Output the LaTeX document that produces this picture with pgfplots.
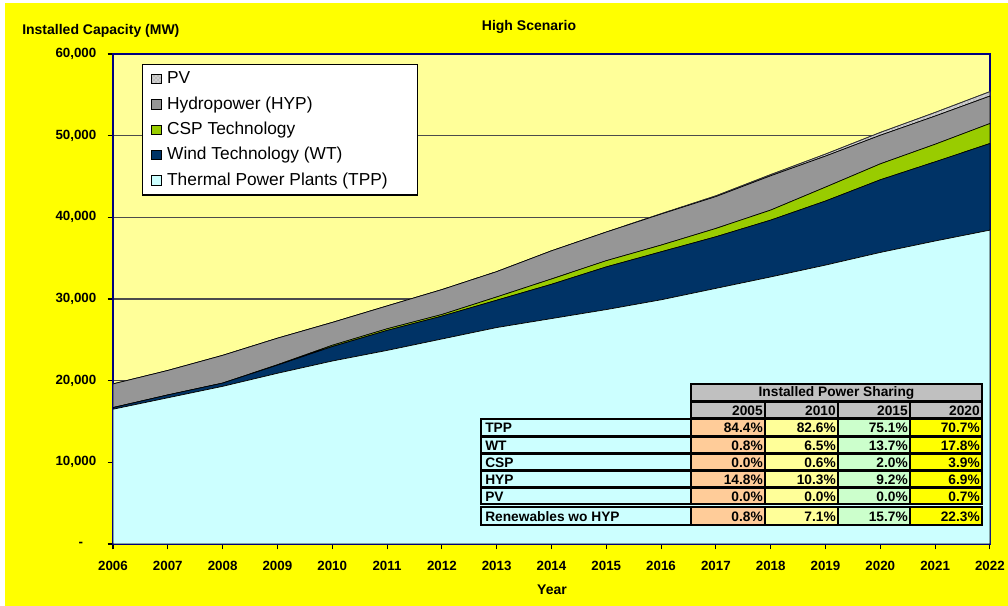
\documentclass[border=0pt]{standalone}
\usepackage{pgfplots}
\pgfplotsset{compat=1.18}
\usepackage{pgfplotstable}
\usepackage{fontspec}
\setmainfont{Liberation Sans}
\usetikzlibrary{patterns}

\definecolor{bgyellow}{HTML}{FFFF00}
\definecolor{plotbg}{HTML}{FFFF99}
\definecolor{tpp}{HTML}{CCFFFF}
\definecolor{wt}{HTML}{003366}
\definecolor{csp}{HTML}{99CC00}
\definecolor{hyp}{HTML}{969696}
\definecolor{pvc}{HTML}{D0D0D0}
\definecolor{navyax}{HTML}{000080}
\definecolor{peach}{HTML}{FFCC99}
\definecolor{lgreen}{HTML}{CCFFCC}
\definecolor{hdrgray}{HTML}{C0C0C0}

% installed capacity (MW), high scenario
\pgfplotstableread{
year TPP   WT    CSP  HYP  PV
2006 16500 200   0    2900 0
2007 17900 350   0    3000 0
2008 19300 400   0    3400 0
2009 20900 1000  50   3250 0
2010 22400 1770  160  2800 0
2011 23700 2450  200  2800 0
2012 25100 2800  200  3050 0
2013 26500 3350  400  3100 0
2014 27600 4200  650  3450 0
2015 28700 5230  760  3510 0
2016 29900 5880  820  3800 50
2017 31300 6320  1020 3900 100
2018 32700 6960  1230 4200 150
2019 34150 7850  1700 3800 250
2020 35700 8900  1950 3500 350
2021 37100 9700  2150 3450 450
2022 38430 10610 2450 3360 550
}\capdata

\newcommand\tfont{\bfseries\fontsize{10.3}{12}\selectfont}
% cell: x1 y1 x2 y2 fill text  (pixel coordinates)
\newcommand\cell[6]{%
  \filldraw[fill=#5, draw=black, line width=1pt] (#1,#2) rectangle (#3,#4);
  \node[anchor=east, inner sep=0pt, font=\tfont] at ({#3-2},{(#2+#4)/2+0.5}) {#6};}
\newcommand\lcell[4]{%
  \filldraw[fill=tpp, draw=black, line width=1pt] (481,#1) rectangle (691,#2);
  \node[anchor=west, inner sep=0pt, font=\tfont] at (485,{(#1+#2)/2+0.5}) {#3};}

\begin{document}
\begin{tikzpicture}
\fill[white] (0,0) rectangle (756pt,454.5pt);
\fill[bgyellow] (3.75pt,0) rectangle (756pt,452.25pt);
\useasboundingbox (0,0) rectangle (756pt,454.5pt);

\begin{axis}[
  at={(84.75pt,46.5pt)}, anchor=south west,
  scale only axis, width=657.75pt, height=367.5pt,
  xmin=2006, xmax=2022, ymin=0, ymax=60000,
  enlargelimits=false,
  stack plots=y,
  axis background/.style={fill=plotbg},
  xtick={2006,...,2022},
  xticklabels={2006,2007,2008,2009,2010,2011,2012,2013,2014,2015,2016,2017,2018,2019,2020,2021,2022},
  ytick={0,10000,...,60000},
  yticklabels={{-\hspace*{10pt}},{10,000},{20,000},{30,000},{40,000},{50,000},{60,000}},
  scaled y ticks=false,
  xtick pos=bottom, ytick pos=left,
  tick align=outside, major tick length=4pt,
  tick style={black, line width=0.8pt},
  ymajorgrids, major grid style={draw=black!70, line width=1.1pt},
  axis line style={navyax, line width=1.5pt},
  ticklabel style={font=\bfseries\fontsize{10}{12}\selectfont},
  xticklabel style={yshift=-5pt},
  yticklabel style={xshift=-5pt},
  legend style={at={(0.033,0.98)}, anchor=north west, fill=white,
    draw=black, line width=0.8pt, font=\fontsize{13}{15}\selectfont,
    inner xsep=2pt, inner ysep=3pt, row sep=3pt,
    nodes={text height=10pt, text depth=3pt, inner sep=1.5pt}},
  legend cell align=left,
  reverse legend,
  legend image code/.code={%
    \draw[#1, draw=black, line width=0.6pt] (5pt,-3.5pt) rectangle (12.5pt,3.5pt);
    \pgfpathmoveto{\pgfqpoint{0pt}{0pt}}\pgfpathlineto{\pgfqpoint{15pt}{0pt}}\pgfusepath{}},
  every axis plot/.append style={line width=0.5pt},
]
\addplot[fill=tpp, draw=black] table[x=year,y=TPP]{\capdata} \closedcycle;
\addlegendentry{Thermal Power Plants (TPP)\hspace*{19pt}}
\addplot[fill=wt, draw=black] table[x=year,y=WT]{\capdata} \closedcycle;
\addlegendentry{Wind Technology (WT)}
\addplot[fill=csp, draw=black] table[x=year,y=CSP]{\capdata} \closedcycle;
\addlegendentry{CSP Technology}
\addplot[fill=hyp, draw=black] table[x=year,y=HYP]{\capdata} \closedcycle;
\addlegendentry{Hydropower (HYP)}
\addplot[fill=pvc, draw=black!80, postaction={pattern=crosshatch dots, pattern color=gray}] table[x=year,y=PV]{\capdata} \closedcycle;
\addlegendentry{PV}
\end{axis}

\begin{scope}[x=0.75pt, y=-0.75pt, shift={(0pt,454.5pt)}]
  \node[anchor=west, font=\bfseries\fontsize{10.5}{12}\selectfont, inner sep=0pt] at (22,31) {Installed Capacity (MW)};
  \node[font=\bfseries\fontsize{10.5}{12}\selectfont, inner sep=0pt] at (529,27) {High Scenario};
  \node[font=\bfseries\fontsize{10.5}{12}\selectfont, inner sep=0pt] at (552,590) {Year};

  % installed power sharing table
  \filldraw[fill=hdrgray, draw=black, line width=1pt] (691,384) rectangle (982,401);
  \node[font=\tfont, inner sep=0pt] at (836.5,393) {Installed Power Sharing};
  \cell{691}{402}{765}{418}{hdrgray}{2005}
  \cell{765}{402}{838}{418}{hdrgray}{2010}
  \cell{838}{402}{910}{418}{hdrgray}{2015}
  \cell{910}{402}{982}{418}{hdrgray}{2020}
  \lcell{419}{436}{TPP}{}
  \cell{691}{419}{765}{436}{peach}{84.4\%}
  \cell{765}{419}{838}{436}{plotbg}{82.6\%}
  \cell{838}{419}{910}{436}{lgreen}{75.1\%}
  \cell{910}{419}{982}{436}{bgyellow}{70.7\%}
  \lcell{437}{453}{WT}{}
  \cell{691}{437}{765}{453}{peach}{0.8\%}
  \cell{765}{437}{838}{453}{plotbg}{6.5\%}
  \cell{838}{437}{910}{453}{lgreen}{13.7\%}
  \cell{910}{437}{982}{453}{bgyellow}{17.8\%}
  \lcell{454}{470}{CSP}{}
  \cell{691}{454}{765}{470}{peach}{0.0\%}
  \cell{765}{454}{838}{470}{plotbg}{0.6\%}
  \cell{838}{454}{910}{470}{lgreen}{2.0\%}
  \cell{910}{454}{982}{470}{bgyellow}{3.9\%}
  \lcell{471}{487}{HYP}{}
  \cell{691}{471}{765}{487}{peach}{14.8\%}
  \cell{765}{471}{838}{487}{plotbg}{10.3\%}
  \cell{838}{471}{910}{487}{lgreen}{9.2\%}
  \cell{910}{471}{982}{487}{bgyellow}{6.9\%}
  \lcell{488}{504}{PV}{}
  \cell{691}{488}{765}{504}{peach}{0.0\%}
  \cell{765}{488}{838}{504}{plotbg}{0.0\%}
  \cell{838}{488}{910}{504}{lgreen}{0.0\%}
  \cell{910}{488}{982}{504}{bgyellow}{0.7\%}
  \lcell{507}{525}{Renewables wo HYP}{}
  \cell{691}{507}{765}{525}{peach}{0.8\%}
  \cell{765}{507}{838}{525}{plotbg}{7.1\%}
  \cell{838}{507}{910}{525}{lgreen}{15.7\%}
  \cell{910}{507}{982}{525}{bgyellow}{22.3\%}
\end{scope}
\end{tikzpicture}
\end{document}
